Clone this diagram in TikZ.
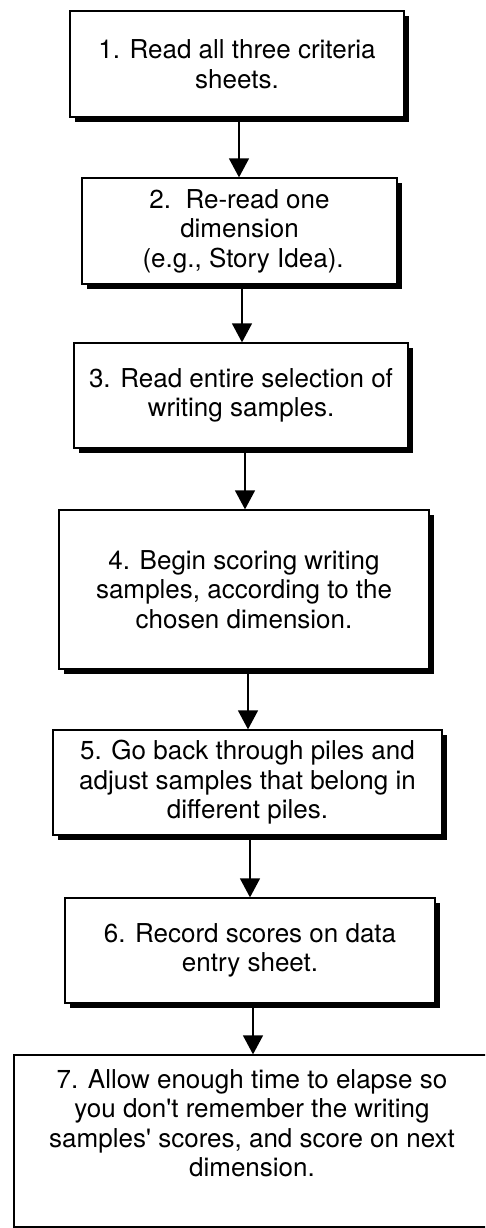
\documentclass[tikz,border=0pt]{standalone}
\usepackage{fontspec}
\setmainfont{TeX Gyre Heros}
\usetikzlibrary{arrows.meta,shadows}
\begin{document}
\begin{tikzpicture}[x=1pt,y=-1pt,
  stepbox/.style={draw=black, line width=1.3pt, fill=white, align=center, inner sep=0pt,
    font=\fontsize{26}{29.5}\selectfont},
  shad/.style={drop shadow={shadow xshift=5pt, shadow yshift=-5pt, fill=black, opacity=1}},
  arr/.style={line width=1.4pt, -{Triangle[length=19pt,width=20pt]}}]
\useasboundingbox (0,0) rectangle (485,1228);
\clip (0,0) rectangle (485,1228);
\fill[white] (0,0) rectangle (485,1228);

\node[stepbox, shad, minimum width=334pt, minimum height=106pt] (b1) at (237,64)
  {1. Read all three criteria\\sheets.};
\node[stepbox, shad, minimum width=315pt, minimum height=106pt] (b2) at (239.5,231)
  {2.\ \ Re-read one\\dimension\\\ (e.g., Story Idea).};
\node[stepbox, shad, minimum width=334pt, minimum height=105pt] (b3) at (241,395.5)
  {3. Read entire selection of\\writing samples.};
\node[stepbox, shad, minimum width=370pt, minimum height=159pt] (b4) at (244,589.5)
  {4. Begin scoring writing\\samples, according to the\\chosen dimension.};
\node[stepbox, shad, minimum width=389pt, minimum height=105pt] (b5) at (247.5,782.5)
  {5. Go back through piles and\\adjust samples that belong in\\different piles.};
\node[stepbox, shad, minimum width=370pt, minimum height=105pt] (b6) at (250,950.5)
  {6. Record scores on data\\entry sheet.};
\node[stepbox, minimum width=476pt, minimum height=172pt, text depth=0pt] (b7) at (252,1141)
  {7. Allow enough time to elapse so\\you don\textquotesingle t remember the writing\\samples\textquotesingle\ scores, and score on next\\dimension.\\[6pt]};

\coordinate (ax1) at (239,0);
\coordinate (ax2) at (242,0);
\coordinate (ax3) at (245,0);
\coordinate (ax4) at (248,0);
\coordinate (ax5) at (250,0);
\coordinate (ax6) at (253,0);

\draw[arr] (b1.south -| ax1) -- (b2.north -| ax1);
\draw[arr] (b2.south -| ax2) -- (b3.north -| ax2);
\draw[arr] (b3.south -| ax3) -- (b4.north -| ax3);
\draw[arr] (b4.south -| ax4) -- (b5.north -| ax4);
\draw[arr] (b5.south -| ax5) -- (b6.north -| ax5);
\draw[arr] (b6.south -| ax6) -- (b7.north -| ax6);
\end{tikzpicture}
\end{document}
